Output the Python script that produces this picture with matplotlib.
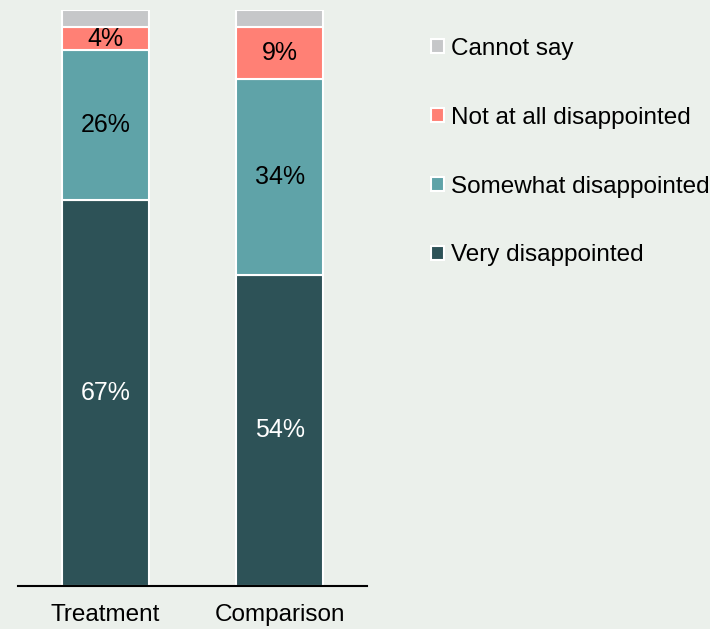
import numpy as np
import matplotlib.pyplot as plt

plt.rcParams['font.family'] = ['Liberation Sans', 'DejaVu Sans']

groups = ['Treatment', 'Comparison']
categories = ['Very disappointed', 'Somewhat disappointed', 'Not at all disappointed', 'Cannot say']
very = [67, 54]
somewhat = [26, 34]
not_at_all = [4, 9]
cannot_say = [3, 3]
colors = ['#2d5257', '#5fa3a8', '#ff8075', '#c6c7c9']
text_colors = ['white', 'black', 'black', None]

bg = '#ebf0eb'
fig = plt.figure(figsize=(7.1, 6.29), dpi=100, facecolor=bg)
ax = fig.add_axes([18 / 710, 43 / 629, 349 / 710, 576 / 629])
ax.set_facecolor(bg)

x = np.arange(len(groups))
bottom = np.zeros(len(groups))
for series, name, col, tcol in zip([very, somewhat, not_at_all, cannot_say], categories, colors, text_colors):
    vals = np.array(series, dtype=float)
    ax.bar(x, vals, width=0.5, bottom=bottom, color=col, edgecolor='white',
           linewidth=1.5, label=name)
    if tcol is not None:
        for xi, b, v in zip(x, bottom, vals):
            ax.text(xi, b + v / 2, f'{int(v)}%', ha='center', va='center',
                    fontsize=18, color=tcol)
    bottom += vals

ax.set_xlim(-0.5, 1.5)
ax.set_ylim(0, 100)
ax.set_xticks(x)
ax.set_xticklabels(groups, fontsize=17.5)
ax.tick_params(axis='x', length=0, pad=13)
ax.set_yticks([])
for side in ['top', 'right', 'left']:
    ax.spines[side].set_visible(False)
ax.spines['bottom'].set_linewidth(1.5)
ax.spines['bottom'].set_color('black')

handles, labels = ax.get_legend_handles_labels()
leg = fig.legend(handles[::-1], labels[::-1], loc='upper left',
                 bbox_to_anchor=(421 / 710, 1 - 28 / 629), frameon=False,
                 fontsize=17.5, handlelength=0.55, handleheight=0.55,
                 handletextpad=0.3, labelspacing=1.93, borderaxespad=0)

fig.savefig('out.png', dpi=100, facecolor=bg)
